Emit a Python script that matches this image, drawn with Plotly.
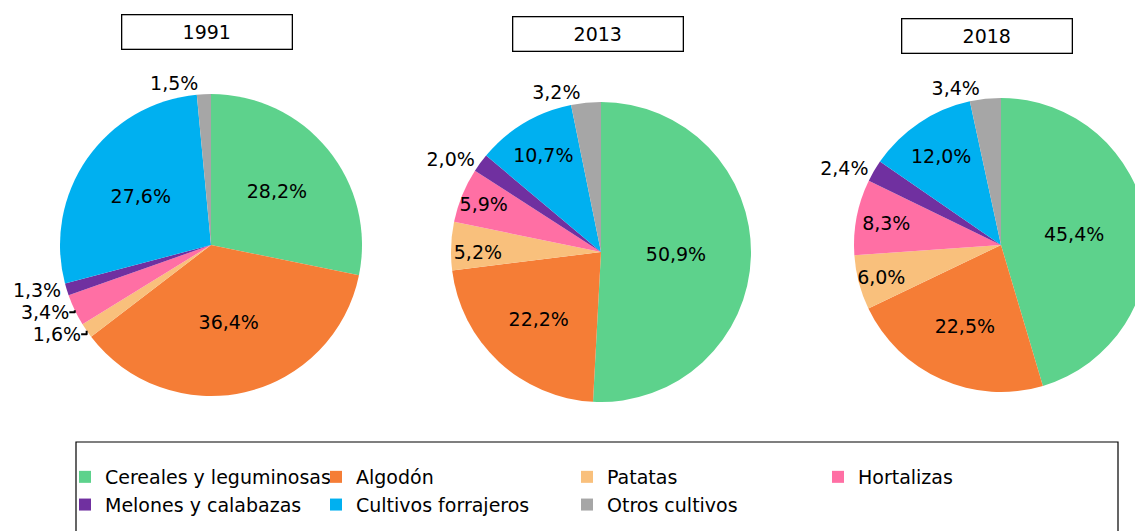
import plotly.graph_objects as go

# data (percent of irrigated area)
categories = ["Cereales y leguminosas", "Algodón", "Patatas", "Hortalizas",
              "Melones y calabazas", "Cultivos forrajeros", "Otros cultivos"]
years = ["1991", "2013", "2018"]
values_1991 = [28.2, 36.4, 1.6, 3.4, 1.3, 27.6, 1.5]
values_2013 = [50.9, 22.2, 5.2, 5.9, 2.0, 10.7, 3.2]
values_2018 = [45.4, 22.5, 6.0, 8.3, 2.4, 12.0, 3.4]

colors = ["#5dd28c", "#f57d36", "#f9c07c", "#ff6fa4", "#7030a0", "#00b0f0", "#a6a6a6"]

W, H = 1160, 545
FONT = "DejaVu Sans"
FS = 19


def px_domain(cx, cy, r):
    return dict(x=[(cx - r) / W, (cx + r) / W], y=[1 - (cy + r) / H, 1 - (cy - r) / H])


pies = [
    (values_1991, px_domain(211, 245, 151),
     ["inside", "inside", "outside", "outside", "outside", "inside", "outside"]),
    (values_2013, px_domain(601, 252, 150),
     ["inside", "inside", "inside", "inside", "outside", "inside", "outside"]),
    (values_2018, px_domain(1001, 245, 147),
     ["inside", "inside", "inside", "inside", "outside", "inside", "outside"]),
]

fig = go.Figure()
for vals, dom, tpos in pies:
    fig.add_trace(go.Pie(
        labels=categories,
        values=vals,
        domain=dom,
        sort=False,
        direction="clockwise",
        rotation=0,
        marker=dict(colors=colors, line=dict(width=0)),
        texttemplate="%{value:.1f}%",
        textposition=tpos,
        insidetextorientation="horizontal",
        textfont=dict(family=FONT, size=FS, color="black"),
        hoverinfo="label+value",
    ))

# year boxes above each pie
title_pos = [(207, 31.5), (597.5, 34.5), (986.5, 35.5)]
for yr, (tx, ty) in zip(years, title_pos):
    fig.add_annotation(
        text=yr, x=tx / W, y=1 - ty / H, xref="paper", yref="paper",
        xanchor="center", yanchor="middle",
        showarrow=False, width=167, height=31, borderpad=1,
        bordercolor="black", borderwidth=1.3, bgcolor="white",
        font=dict(family=FONT, size=FS, color="black"),
    )

# legend frame
fig.add_shape(type="rect", xref="paper", yref="paper",
              x0=76 / W, x1=1118 / W, y0=-0.05, y1=1 - 442 / H,
              line=dict(color="black", width=1.2))

fig.update_layout(
    width=W, height=H,
    margin=dict(l=0, r=0, t=0, b=0),
    paper_bgcolor="white",
    separators=",.",
    uniformtext=dict(minsize=FS, mode="show"),
    font=dict(family=FONT, size=FS, color="black"),
    legend=dict(
        orientation="h",
        x=65 / W, xanchor="left",
        y=1 - 458 / H, yanchor="top",
        entrywidth=206, entrywidthmode="pixels",
        font=dict(family=FONT, size=FS, color="black"),
        bgcolor="rgba(0,0,0,0)",
    ),
)

fig.write_html("out.html", config={"displayModeBar": False},
               post_script="document.body.style.margin='0';document.body.style.overflow='hidden';")
